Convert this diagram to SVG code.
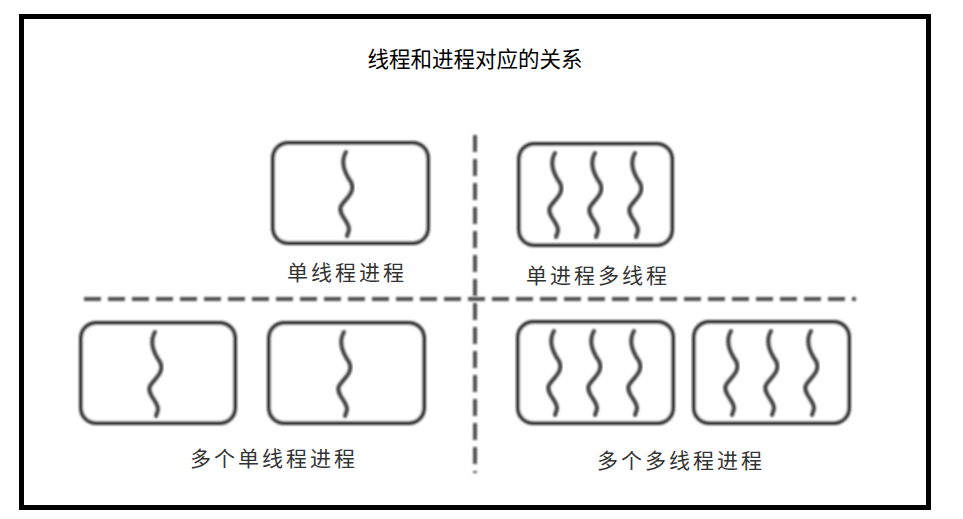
<svg xmlns="http://www.w3.org/2000/svg" xmlns:xlink="http://www.w3.org/1999/xlink" width="963" height="519" viewBox="0 0 963 519">
<style>
.box{fill:#fff;stroke:#2e2e2e;stroke-width:4;filter:url(#soft)}
.wave{fill:none;stroke:#404040;stroke-width:4;stroke-linecap:round;filter:url(#soft)}
.dash{fill:none;stroke:#505050;stroke-width:4;stroke-dasharray:17 7;filter:url(#softU)}
.lbl{font-family:"Noto Sans CJK SC","Noto Sans",sans-serif;font-size:21px;fill:#333;letter-spacing:3px;text-anchor:middle}
.title{font-family:"Noto Sans CJK SC","Noto Sans",sans-serif;font-size:21.5px;fill:#000;text-anchor:middle}
</style>
<defs>
<filter id="soft" x="-20%" y="-20%" width="140%" height="140%"><feGaussianBlur stdDeviation="0.8"/></filter>
<filter id="softU" filterUnits="userSpaceOnUse" x="0" y="0" width="963" height="519"><feGaussianBlur stdDeviation="0.8"/></filter>
<path id="w" d="M0,0 C-6,10 -2,20 5,30 C10,40 0,46 -5,54 C-9,62 4,70 3,78 L1,84"/>
</defs>
<rect x="0" y="0" width="963" height="519" fill="#fff"/>
<rect x="21.5" y="16.5" width="907" height="491" fill="none" stroke="#000" stroke-width="5"/>
<text class="title" x="475" y="67">线程和进程对应的关系</text>
<g id="connectors">
<line class="dash" x1="84" y1="299" x2="856" y2="299"/>
<line class="dash" x1="475" y1="135" x2="475" y2="473"/>
</g>
<g id="single-thread-process">
<rect class="box" x="273" y="143" width="155" height="100" rx="15"/>
<use href="#w" xlink:href="#w" class="wave" x="346" y="152"/>
<text class="lbl" x="347" y="280">单线程进程</text>
</g>
<g id="single-process-multi-thread">
<rect class="box" x="519" y="144" width="153" height="101" rx="15"/>
<use href="#w" xlink:href="#w" class="wave" x="555" y="153"/>
<use href="#w" xlink:href="#w" class="wave" x="595" y="153"/>
<use href="#w" xlink:href="#w" class="wave" x="635" y="153"/>
<text class="lbl" x="598" y="283">单进程多线程</text>
</g>
<g id="multi-single-thread-processes">
<rect class="box" x="81" y="323" width="154" height="100" rx="15"/>
<use href="#w" xlink:href="#w" class="wave" x="155" y="332"/>
<rect class="box" x="269" y="323" width="155" height="100" rx="15"/>
<use href="#w" xlink:href="#w" class="wave" x="344" y="332"/>
<text class="lbl" x="274" y="466">多个单线程进程</text>
</g>
<g id="multi-multi-thread-processes">
<rect class="box" x="518" y="322" width="155" height="101" rx="15"/>
<use href="#w" xlink:href="#w" class="wave" x="554" y="331"/>
<use href="#w" xlink:href="#w" class="wave" x="594" y="331"/>
<use href="#w" xlink:href="#w" class="wave" x="634" y="331"/>
<rect class="box" x="694" y="322" width="155" height="101" rx="15"/>
<use href="#w" xlink:href="#w" class="wave" x="731" y="331"/>
<use href="#w" xlink:href="#w" class="wave" x="771" y="331"/>
<use href="#w" xlink:href="#w" class="wave" x="811" y="331"/>
<text class="lbl" x="681" y="468">多个多线程进程</text>
</g>
</svg>
